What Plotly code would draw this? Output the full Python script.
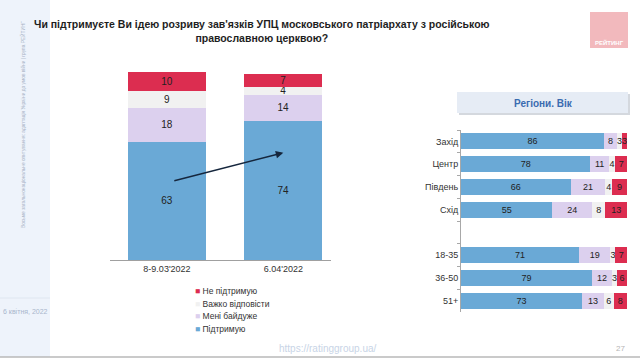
import plotly.graph_objects as go

# ---- data ----
dates = ["8-9.03'2022", "6.04'2022"]
support = [63, 74]
indifferent = [18, 14]
hard_to_say = [9, 4]
not_support = [10, 7]

groups = ["Захід", "Центр", "Південь", "Схід", " ", "18-35", "36-50", "51+"]
g_support = [86, 78, 66, 55, None, 71, 79, 73]
g_indifferent = [8, 11, 21, 24, None, 19, 12, 13]
g_hard = [3, 4, 4, 8, None, 3, 3, 6]
g_not = [3, 7, 9, 13, None, 7, 6, 8]

series_names = ["Підтримую", "Мені байдуже", "Важко відповісти", "Не підтримую"]
colors = ["#6aa9d6", "#dcd0ee", "#f1f1f1", "#dc2d50"]

FONT = "Liberation Sans, Arial"
W, H = 640, 360

def px(x):
    return x / W

def py(y):
    return 1 - y / H

fig = go.Figure()

left_vals = [support, indifferent, hard_to_say, not_support]
for name, vals, col in zip(series_names, left_vals, colors):
    fig.add_trace(go.Bar(
        x=dates, y=vals, name=name, marker=dict(color=col, line=dict(width=0)),
        text=vals, texttemplate="%{text}", textposition="inside",
        insidetextanchor="middle", textangle=0,
        textfont=dict(size=10, color="#222", family=FONT),
        xaxis="x", yaxis="y", width=0.67, showlegend=False,
        hoverinfo="skip",
    ))

right_vals = [g_support, g_indifferent, g_hard, g_not]
for name, vals, col in zip(series_names, right_vals, colors):
    fig.add_trace(go.Bar(
        y=groups, x=vals, name=name, orientation="h",
        marker=dict(color=col, line=dict(width=0)),
        text=vals, texttemplate="%{text}", textposition="inside",
        insidetextanchor="middle", textangle=0,
        textfont=dict(size=9, color="#222", family=FONT),
        xaxis="x2", yaxis="y2", showlegend=False, hoverinfo="skip",
    ))

shapes = [
    # sidebar
    dict(type="rect", xref="paper", yref="paper", x0=0, x1=px(50), y0=py(357), y1=1,
         fillcolor="#eef3fb", line=dict(width=0), layer="below"),
    dict(type="line", xref="paper", yref="paper", x0=0, x1=px(50), y0=py(298), y1=py(298),
         line=dict(color="#dfe6f0", width=1)),
    # bottom line
    dict(type="line", xref="paper", yref="paper", x0=0, x1=1, y0=py(357), y1=py(357),
         line=dict(color="#b8b8b8", width=1.5)),
    # logo
    dict(type="rect", xref="paper", yref="paper", x0=px(590), x1=px(628), y0=py(48), y1=py(12),
         fillcolor="#f2b9bd", line=dict(width=0)),
    # header box shadow + box
    dict(type="rect", xref="paper", yref="paper", x0=px(459), x1=px(630), y0=py(115), y1=py(94),
         fillcolor="#d4d8de", line=dict(width=0), layer="below"),
    dict(type="rect", xref="paper", yref="paper", x0=px(457), x1=px(628), y0=py(113), y1=py(92),
         fillcolor="#e6ecf5", line=dict(width=0), layer="below"),
]

annotations = [
    dict(text="<b>Чи підтримуєте Ви ідею розриву зав'язків УПЦ московського патріархату з російською<br>православною церквою?</b>",
         xref="paper", yref="paper", x=px(262), y=py(31), xanchor="center", yanchor="middle",
         showarrow=False, font=dict(size=10.5, color="#1e1e1e", family=FONT), align="center"),
    dict(text="<b>Регіони. Вік</b>", xref="paper", yref="paper", x=px(543), y=py(103),
         xanchor="center", yanchor="middle", showarrow=False,
         font=dict(size=10, color="#3a6bb0", family=FONT)),
    dict(text="<b>РЕЙТИНГ</b>", xref="paper", yref="paper", x=px(609), y=py(42),
         xanchor="center", yanchor="middle", showarrow=False,
         font=dict(size=6, color="#ffffff", family=FONT)),
    dict(text="Восьме загальнонаціональне опитування: адаптація України до умов війни | група РЕЙТИНГ",
         xref="paper", yref="paper", x=px(22), y=py(125), xanchor="center", yanchor="middle",
         textangle=-90, showarrow=False, font=dict(size=4.8, color="#a9b3c6", family=FONT)),
    dict(text="6 квітня, 2022", xref="paper", yref="paper", x=px(25), y=py(311),
         xanchor="center", yanchor="middle", showarrow=False,
         font=dict(size=7, color="#a9b6cc", family=FONT)),
    dict(text="https://ratinggroup.ua/", xref="paper", yref="paper", x=px(328), y=py(348),
         xanchor="center", yanchor="middle", showarrow=False,
         font=dict(size=10, color="#c8d4e6", family=FONT)),
    dict(text="27", xref="paper", yref="paper", x=px(620), y=py(348),
         xanchor="center", yanchor="middle", showarrow=False,
         font=dict(size=8, color="#b5b5b5", family=FONT)),
    # trend arrow
    dict(xref="x", yref="y", axref="x", ayref="y", x=1.0, y=57, ax=0.05, ay=42,
         text="", showarrow=True, arrowhead=2, arrowsize=1, arrowwidth=1.5,
         arrowcolor="#15263d"),
]

# compact legend (top item first), built from series names and colours
legend_order = list(zip(series_names, colors))[::-1]
for i, (name, col) in enumerate(legend_order):
    annotations.append(dict(
        text=f"<span style='color:{col}'>■</span> {name}",
        xref="paper", yref="paper", x=px(193), y=py(291 + i * 12.5),
        xanchor="left", yanchor="middle", showarrow=False,
        font=dict(size=8.5, color="#333", family=FONT),
    ))

fig.update_layout(
    width=W, height=H, autosize=False,
    margin=dict(l=0, r=0, t=0, b=0),
    paper_bgcolor="white", plot_bgcolor="rgba(0,0,0,0)",
    barmode="stack", bargap=0.3,
    font=dict(family=FONT, size=9, color="#333"),
    uniformtext=dict(minsize=9, mode="show"),
    showlegend=False,
    xaxis=dict(domain=[px(110), px(331)], range=[-0.49, 1.41], type="category",
               showline=True, linecolor="#a0a0a0", linewidth=1, ticks="",
               tickfont=dict(size=9, color="#333", family=FONT), showgrid=False,
               fixedrange=True),
    yaxis=dict(domain=[py(260), py(72)], range=[0, 100], visible=False, fixedrange=True),
    xaxis2=dict(domain=[px(461), px(627)], range=[0, 100], visible=False,
                anchor="y2", fixedrange=True),
    yaxis2=dict(domain=[py(312), py(130)], anchor="x2", type="category",
                categoryorder="array", categoryarray=groups, autorange="reversed",
                showline=True, linecolor="#a8a8a8", linewidth=1, ticks="outside",
                tickson="boundaries", ticklen=3, tickcolor="#a8a8a8",
                tickfont=dict(size=9, color="#333", family=FONT), showgrid=False,
                fixedrange=True),
    shapes=shapes, annotations=annotations,
)

fig.write_html(
    "out.html",
    config={"responsive": False, "displayModeBar": False},
    post_script="document.body.style.margin='0';document.body.style.overflow='hidden';",
)
